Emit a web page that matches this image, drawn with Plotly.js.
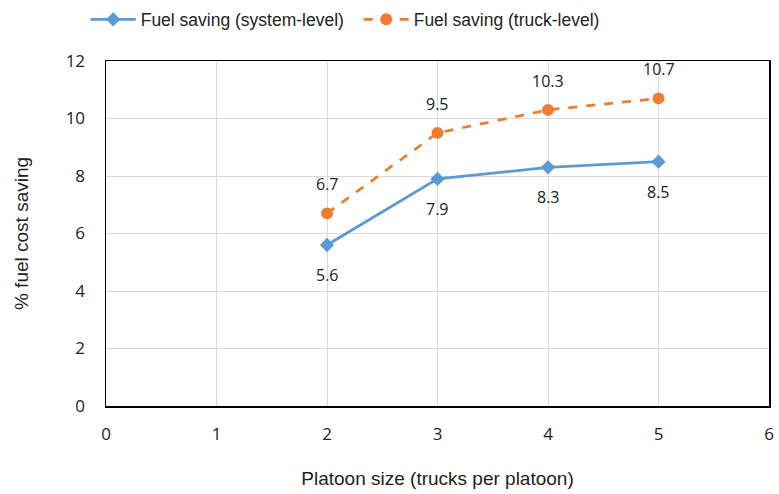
<!DOCTYPE html>
<html>
<head>
<meta charset="utf-8">
<script src="https://cdn.plot.ly/plotly-3.0.1.min.js"></script>
<style>html,body{margin:0;padding:0;background:#fff}#chart{width:779px;height:494px}</style>
</head>
<body>
<div id="chart"></div>
<script>
const platoonSize = [2, 3, 4, 5];
const systemLevel = [5.6, 7.9, 8.3, 8.5];
const truckLevel = [6.7, 9.5, 10.3, 10.7];
const seriesNames = ['Fuel saving (system-level)', 'Fuel saving (truck-level)'];
const xTicks = [0, 1, 2, 3, 4, 5, 6];
const yTicks = [0, 2, 4, 6, 8, 10, 12];

const tickFont = {family: 'Open Sans, Noto Sans, sans-serif', size: 17, color: '#222'};
const labelFont = {family: 'Open Sans, Noto Sans, sans-serif', size: 16, color: '#222'};
const titleFont = {family: 'Liberation Sans, Arial, sans-serif', size: 19, color: '#222'};

const traces = [
  {x: platoonSize, y: systemLevel, name: seriesNames[0], mode: 'lines+markers',
   line: {color: '#5b9bd5', width: 2.75}, marker: {symbol: 'diamond', size: 11, color: '#5b9bd5'}},
  {x: platoonSize, y: truckLevel, name: seriesNames[1], mode: 'lines+markers',
   line: {color: '#ed7d31', width: 2.75, dash: 'dash'}, marker: {symbol: 'circle', size: 12, color: '#ed7d31'}}
];

const annotations = [];
platoonSize.forEach((x, i) => {
  annotations.push({x: x, y: systemLevel[i], text: systemLevel[i].toFixed(1), showarrow: false, yshift: -30, font: labelFont});
  annotations.push({x: x, y: truckLevel[i], text: truckLevel[i].toFixed(1), showarrow: false, yshift: 29, font: labelFont});
});

const layout = {
  width: 779, height: 494,
  margin: {l: 106, r: 10, t: 61, b: 88},
  paper_bgcolor: '#fff', plot_bgcolor: '#fff',
  showlegend: true,
  legend: {orientation: 'h', x: 0.11, xanchor: 'left', xref: 'container', y: 0.997, yanchor: 'top', yref: 'container',
    font: {family: 'Liberation Sans, Arial, sans-serif', size: 17.5, color: '#222'}, itemwidth: 45,
    entrywidth: 213, entrywidthmode: 'pixels', traceorder: 'normal'},
  xaxis: {range: [0, 6], tickvals: xTicks, ticktext: xTicks.map(String), showgrid: true, gridcolor: '#d9d9d9', gridwidth: 1,
    showline: true, linecolor: '#000', linewidth: 1.5, mirror: true, zeroline: false, ticks: '', ticklen: 0,
    ticklabelstandoff: 12,
    tickfont: tickFont, title: {text: 'Platoon size (trucks per platoon)', font: titleFont, standoff: 28}},
  yaxis: {range: [0, 12], tickvals: yTicks, showgrid: true, gridcolor: '#d9d9d9', gridwidth: 1,
    showline: true, linecolor: '#000', linewidth: 1.5, mirror: true, zeroline: false, ticks: '', ticklen: 0,
    ticklabelstandoff: 16,
    tickfont: tickFont, title: {text: '% fuel cost saving', font: titleFont, standoff: 32}},
  annotations: annotations
};

Plotly.newPlot('chart', traces, layout, {displayModeBar: false, staticPlot: true});
</script>
</body>
</html>
